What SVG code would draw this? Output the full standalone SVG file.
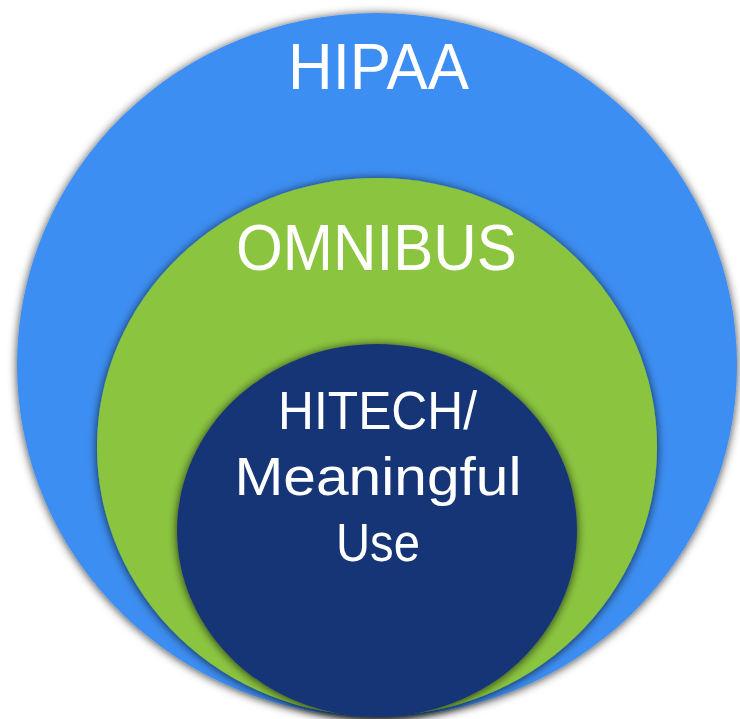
<svg xmlns="http://www.w3.org/2000/svg" width="740" height="719" viewBox="0 0 740 719">
  <defs>
    <filter id="sh" x="-10%" y="-10%" width="120%" height="120%">
      <feDropShadow dx="0" dy="1" stdDeviation="5" flood-color="#000" flood-opacity="0.75"/>
    </filter>
    <style>
      .lbl { font-family: "Liberation Sans", "DejaVu Sans", sans-serif; fill: #ffffff; text-anchor: middle; }
    </style>
  </defs>
  <rect width="740" height="719" fill="#ffffff"/>
  <g id="hipaa">
    <ellipse cx="377" cy="365" rx="360" ry="352" fill="#3d8ef2" filter="url(#sh)"/>
    <text class="lbl" x="378.5" y="89" font-size="65" textLength="181" lengthAdjust="spacingAndGlyphs">HIPAA</text>
  </g>
  <g id="omnibus">
    <ellipse cx="377" cy="447" rx="280" ry="269" fill="#8bc53f" filter="url(#sh)"/>
    <text class="lbl" x="376.5" y="270" font-size="64" textLength="281" lengthAdjust="spacingAndGlyphs">OMNIBUS</text>
  </g>
  <g id="hitech">
    <ellipse cx="377" cy="530.5" rx="200" ry="186.5" fill="#183576" filter="url(#sh)"/>
    <text class="lbl" x="377.5" y="428.5" font-size="53" textLength="199" lengthAdjust="spacingAndGlyphs">HITECH/</text>
    <text class="lbl" x="378" y="494.5" font-size="53" textLength="287" lengthAdjust="spacingAndGlyphs">Meaningful</text>
    <text class="lbl" x="378" y="560.5" font-size="53" textLength="84" lengthAdjust="spacingAndGlyphs">Use</text>
  </g>
  <g id="connectors"></g>
</svg>
